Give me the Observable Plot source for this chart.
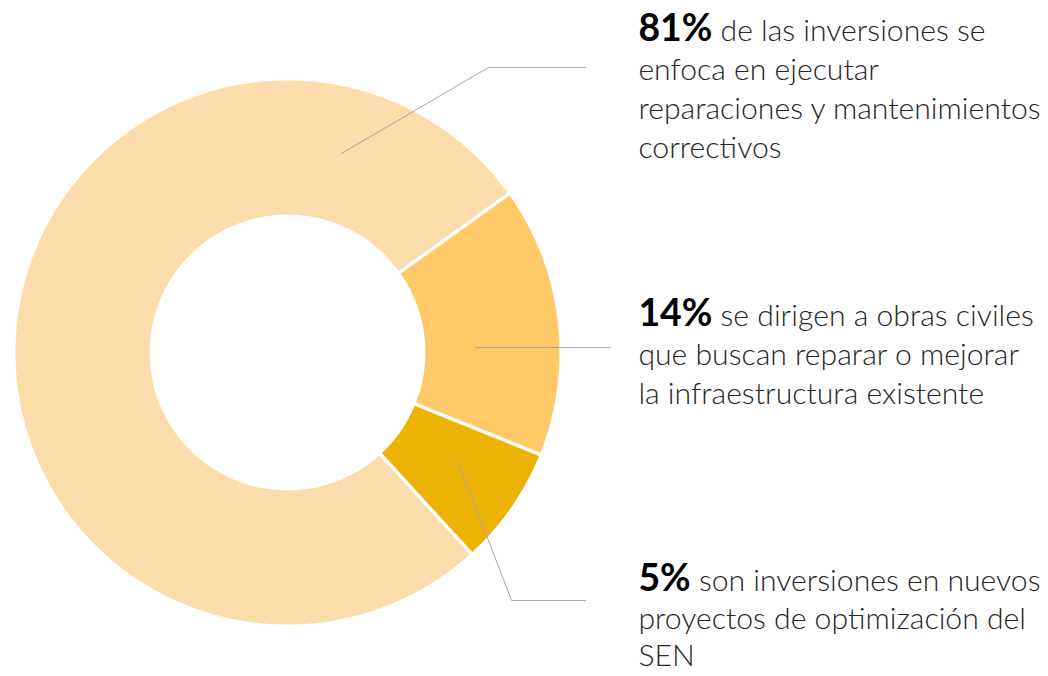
<!DOCTYPE html>
<html><head><meta charset="utf-8">
<script src="https://cdn.jsdelivr.net/npm/d3@7"></script>
<script src="https://cdn.jsdelivr.net/npm/@observablehq/plot@0.6"></script>
<style>html,body{margin:0;padding:0;background:#fff;} #chart svg{display:block}</style>
</head><body><div id="chart"></div>
<script>
// ---- data (clockwise order, starting at the upper-right boundary) ----
const categories = ["Obras civiles", "Nuevos proyectos de optimización del SEN", "Reparaciones y mantenimientos correctivos"];
const shares = [16.0, 7.1, 76.9];            // slice size as drawn (% of the circle)
const pctLabels = ["14%", "5%", "81%"];
const descriptions = [
  "se dirigen a obras civiles\nque buscan reparar o mejorar\nla infraestructura existente",
  "son inversiones en nuevos\nproyectos de optimización del\nSEN",
  "de las inversiones se\nenfoca en ejecutar\nreparaciones y mantenimientos\ncorrectivos"
];
const colors = ["#FFC969", "#EDB304", "#FDDCAB"];
// label anchor (first baseline) in chart units, and line spacing (px)
const labelX = [1.29, 1.29, 1.29];
const labelY = [0.099, -0.878, 1.147];
const labelStep = [39, 37.5, 39];
// leader lines in chart units
const leaderX = [[0.691, 1.188], [0.625, 0.824, 1.096], [0.199, 0.739, 1.096]];
const leaderY = [[0.018, 0.018], [-0.397, -0.912, -0.912], [0.732, 1.048, 1.048]];

const startAngle = 54.4;     // degrees clockwise from top
const innerR = 0.507;

// ---- build geometry tables ----
let acc = startAngle;
const slices = shares.map((s, i) => {
  const a0 = acc, a1 = acc + s * 3.6; acc = a1;
  return {category: categories[i], a0, a1, color: colors[i]};
});
const rad = a => a * Math.PI / 180;
const ring = sl => {
  const n = Math.max(2, Math.ceil((sl.a1 - sl.a0) / 0.25));
  const angs = d3.range(n + 1).map(k => sl.a0 + (sl.a1 - sl.a0) * k / n);
  const outer = angs.map(a => ({x: Math.sin(rad(a)), y: Math.cos(rad(a))}));
  const inner = angs.slice().reverse().map(a => ({x: innerR * Math.sin(rad(a)), y: innerR * Math.cos(rad(a))}));
  return outer.concat(inner);
};
const separators = slices.map(sl => ({
  x1: (innerR - 0.02) * Math.sin(rad(sl.a0)), y1: (innerR - 0.02) * Math.cos(rad(sl.a0)),
  x2: 1.02 * Math.sin(rad(sl.a0)), y2: 1.02 * Math.cos(rad(sl.a0))
}));
const leaders = categories.flatMap((c, i) => leaderX[i].map((x, j) => ({category: c, x, y: leaderY[i][j]})));
const labels = categories.map((c, i) => ({category: c, x: labelX[i], y: labelY[i], step: labelStep[i], pct: pctLabels[i], desc: descriptions[i]}));

// ---- font sizing ----
const FONT = "Lato, 'Open Sans', sans-serif";
const ctx = document.createElement("canvas").getContext("2d");
ctx.font = `300 100px ${FONT}`;
const fs = 100 * 404 / ctx.measureText("reparaciones y mantenimientos").width;
ctx.font = `bold 100px ${FONT}`;
const bfs = 100 * 74 / ctx.measureText("81%").width;

const svg = Plot.plot({
  width: 1048, height: 676, margin: 0,
  x: {domain: [-1, 1], range: [15, 559], axis: null},
  y: {domain: [-1, 1], range: [624, 80], axis: null},
  marks: [
    ...slices.map(sl => Plot.line(ring(sl), {x: "x", y: "y", fill: sl.color, stroke: "none", curve: "linear-closed"})),
    Plot.link(separators, {x1: "x1", y1: "y1", x2: "x2", y2: "y2", stroke: "white", strokeWidth: 3.5}),
    Plot.line(leaders, {x: "x", y: "y", z: "category", stroke: "#a6a6a6", strokeWidth: 1}),
    Plot.text(labels, {x: "x", y: "y", text: d => d.pct + " " + d.desc, textAnchor: "start", lineAnchor: "bottom",
      fontFamily: FONT, fontSize: fs, fontWeight: 300, fill: "#262626"})
  ]
});

// rich-text first line: bold percentage
const NS = "http://www.w3.org/2000/svg";
svg.querySelectorAll('g[aria-label="text"] text').forEach((t, i) => {
  const d = labels[i];
  const x0 = t.getAttribute("x");
  t.removeAttribute("dy");
  t.textContent = "";
  d.desc.split("\n").forEach((line, j) => {
    const ts = document.createElementNS(NS, "tspan");
    ts.setAttribute("x", x0 == null ? 0 : x0);
    ts.setAttribute("dy", j ? d.step : 0);
    if (j === 0) {
      const b = document.createElementNS(NS, "tspan");
      b.setAttribute("font-weight", "bold");
      b.setAttribute("font-size", bfs);
      b.setAttribute("fill", "#000");
      b.textContent = d.pct;
      ts.appendChild(b);
      ts.appendChild(document.createTextNode(" " + line));
    } else ts.textContent = line;
    t.appendChild(ts);
  });
});
document.getElementById("chart").appendChild(svg);
</script></body></html>
